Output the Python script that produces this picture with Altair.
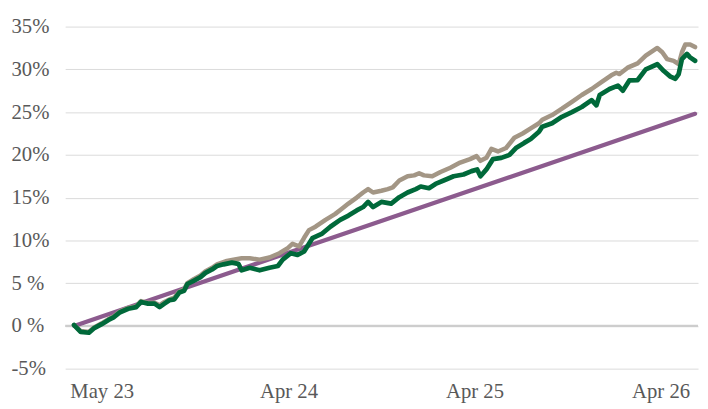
import altair as alt
import pandas as pd

# x positions are months since the series start
green_x = [0.0, 0.42, 0.95, 1.26, 1.77, 2.21, 2.53, 2.95, 3.47, 3.98, 4.29, 4.74, 5.16, 5.48, 5.79,
           6.11, 6.42, 6.74, 7.05, 7.26, 7.69, 8.10, 8.42, 8.84, 9.16, 9.58, 10.11, 10.53, 10.74,
           11.26, 11.89, 12.52, 13.06, 13.37, 13.89, 14.32, 14.74, 15.27, 15.90, 16.42, 17.05,
           17.58, 18.11, 18.52, 18.84, 19.16, 19.69, 20.32, 20.84, 21.37, 21.90, 22.21, 22.74,
           23.16, 23.68, 24.32, 24.95, 25.47, 25.83, 26.04, 26.42, 26.84, 27.37, 27.90, 28.31,
           28.84, 29.26, 29.79, 30.0, 30.63, 31.26, 31.90, 32.53, 33.16, 33.47, 33.68, 34.31,
           34.85, 35.16, 35.58, 36.11, 36.63, 37.37, 37.79, 38.21, 38.53, 38.74, 38.95, 39.27,
           39.47, 39.79]
green_y = [0.1, -0.7, -0.8, -0.3, 0.2, 0.7, 1.0, 1.6, 2.0, 2.2, 2.8, 2.6, 2.6, 2.2, 2.6,
           3.0, 3.1, 3.9, 4.1, 4.9, 5.3, 5.7, 6.2, 6.6, 7.0, 7.2, 7.4, 7.25, 6.5,
           6.8, 6.5, 6.8, 7.0, 7.75, 8.5, 8.3, 8.7, 10.25, 10.8, 11.6, 12.4,
           12.9, 13.5, 13.9, 14.5, 13.9, 14.5, 14.3, 15.05, 15.6, 16.0, 16.3, 16.1,
           16.6, 17.0, 17.5, 17.7, 18.1, 18.3, 17.5, 18.3, 19.5, 19.65, 20.0, 20.8,
           21.4, 21.85, 22.7, 23.3, 23.7, 24.45, 25.0, 25.6, 26.4, 25.8, 27.0, 27.7,
           28.1, 27.5, 28.7, 28.75, 30.0, 30.6, 29.8, 29.15, 28.9, 29.45, 31.2, 31.8,
           31.4, 31.0]

tan_x = [0.0, 0.42, 0.95, 1.26, 1.77, 2.21, 2.53, 2.95, 3.47, 3.98, 4.29, 4.74, 5.16, 5.48, 5.79,
         6.11, 6.42, 6.74, 7.05, 7.26, 7.69, 8.10, 8.42, 8.84, 9.16, 9.79, 10.21, 10.74, 11.26,
         11.89, 12.52, 13.16, 13.69, 14.00, 14.42, 14.74, 15.05, 15.47, 16.11, 16.74, 17.16,
         17.58, 18.11, 18.52, 18.84, 19.16, 19.69, 20.10, 20.42, 20.84, 21.37, 21.79, 22.11,
         22.42, 22.95, 23.48, 24.11, 24.74, 25.37, 25.79, 26.04, 26.42, 26.74, 27.16, 27.68,
         28.21, 28.74, 29.26, 29.79, 30.0, 30.63, 31.26, 31.90, 32.53, 33.16, 33.79, 34.42,
         34.74, 34.95, 35.47, 36.11, 36.63, 37.37, 37.69, 38.0, 38.42, 38.74, 38.95, 39.16,
         39.47, 39.79]
tan_y = [0.1, -0.6, -0.7, -0.2, 0.3, 0.8, 1.1, 1.7, 2.1, 2.3, 2.9, 2.7, 2.7, 2.4, 2.8,
         3.1, 3.3, 4.0, 4.3, 5.0, 5.5, 5.9, 6.4, 6.8, 7.2, 7.6, 7.75, 7.9, 7.9,
         7.75, 8.0, 8.5, 9.1, 9.6, 9.3, 10.3, 11.2, 11.6, 12.4, 13.1, 13.7,
         14.3, 15.0, 15.6, 16.0, 15.6, 15.8, 16.0, 16.2, 17.0, 17.5, 17.6, 17.85,
         17.6, 17.5, 18.0, 18.5, 19.1, 19.5, 19.85, 19.3, 19.65, 20.7, 20.4, 20.8,
         22.0, 22.5, 23.1, 23.7, 24.1, 24.65, 25.4, 26.2, 27.0, 27.7, 28.5, 29.3,
         29.6, 29.45, 30.2, 30.7, 31.6, 32.5, 32.0, 31.2, 31.0, 30.6, 32.0, 32.9,
         32.9, 32.6]

bench_x = [0.0, 39.79]
bench_y = [0.0, 24.8]

tick_values = [1.77, 13.74, 25.66, 37.58]
tick_labels = ["May 23", "Apr 24", "Apr 25", "Apr 26"]
y_ticks = [-5, 0, 5, 10, 15, 20, 25, 30, 35]

df = pd.concat([
    pd.DataFrame({"m": bench_x, "v": bench_y, "s": "Benchmark", "o": 0}),
    pd.DataFrame({"m": tan_x, "v": tan_y, "s": "Tan", "o": 1}),
    pd.DataFrame({"m": green_x, "v": green_y, "s": "Green", "o": 2}),
], ignore_index=True)

label_js = "[" + ",".join("'%s'" % t for t in tick_labels) + "][indexof([" + ",".join(str(v) for v in tick_values) + "], datum.value)]"
font = "Liberation Serif"

x_enc = alt.X("m:Q", scale=alt.Scale(domain=[-0.57, 39.98], nice=False, zero=False),
              axis=alt.Axis(values=tick_values, labelExpr=label_js, title=None, grid=False,
                            domain=False, ticks=False, tickSize=0, labelPadding=12,
                            labelFont=font, labelFontSize=21, labelColor="#595959",
                            labelFlush=False))
y_enc = alt.Y("v:Q", scale=alt.Scale(domain=[-5, 35], nice=False),
              axis=alt.Axis(values=y_ticks, title=None, domain=False, ticks=False, tickSize=0,
                            labelAlign="left", labelPadding=55, grid=True,
                            gridColor="#dadada", gridWidth=1,
                            labelExpr="(datum.value >= 0 && datum.value < 10) ? datum.value + ' %' : datum.value + '%'",
                            labelFont=font, labelFontSize=21, labelColor="#595959"))

zero = alt.Chart(pd.DataFrame({"z": [0]})).mark_rule(color="#cdcdcd", strokeWidth=2.2).encode(y="z:Q")

lines = alt.Chart(df).mark_line(strokeJoin="round", strokeCap="round").encode(
    x=x_enc, y=y_enc,
    color=alt.Color("s:N", scale=alt.Scale(domain=["Benchmark", "Tan", "Green"],
                                          range=["#8c5b8e", "#a39685", "#00693a"]), legend=None),
    strokeWidth=alt.StrokeWidth("s:N", scale=alt.Scale(domain=["Benchmark", "Tan", "Green"],
                                                      range=[4.3, 4.8, 5.0]), legend=None),
    order="o:Q",
    detail="s:N",
)

chart = alt.layer(zero, lines).properties(
    width=642, height=347,
    padding={"left": 3, "top": 5, "right": 0, "bottom": 0},
).configure_view(stroke=None)

chart.save("out.html", embed_options={"renderer": "svg", "actions": False})
